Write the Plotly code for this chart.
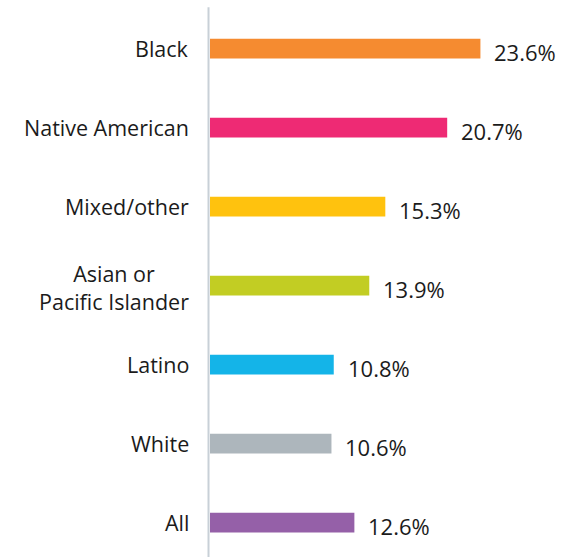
import plotly.graph_objects as go

# Share of each group, percent
groups = ["Black", "Native American", "Mixed/other", "Asian or<br>Pacific Islander",
          "Latino", "White", "All"]
values = [23.6, 20.7, 15.3, 13.9, 10.8, 10.6, 12.6]
colors = ["#F58B30", "#EE2A74", "#FFC20E", "#C2CD23", "#14B4E8", "#ADB6BC", "#9560A8"]

FONT = "'Open Sans', sans-serif"
TEXT_COLOR = "#1b1b1b"

fig = go.Figure(
    go.Bar(
        x=values,
        y=list(range(len(groups))),
        orientation="h",
        marker=dict(color=colors, line=dict(width=0)),
        width=0.25,
        hoverinfo="skip",
    )
)

annotations = []
for i, (g, v) in enumerate(zip(groups, values)):
    # group name, right-aligned left of the axis
    annotations.append(dict(
        x=0, xref="paper", y=i, yref="y", text=g, showarrow=False,
        xanchor="right", yanchor="middle", align="center", xshift=-19,
        yshift=-2 if "<br>" in g else 0,
        font=dict(family=FONT, size=21.5, color=TEXT_COLOR),
    ))
    # value label at the end of each bar
    annotations.append(dict(
        x=v, xref="x", y=i, yref="y", text=f"{v:.1f}%", showarrow=False,
        xanchor="left", yanchor="middle", xshift=12, yshift=-3,
        font=dict(family=FONT, size=22, color=TEXT_COLOR),
    ))

fig.update_layout(
    width=584, height=557,
    margin=dict(l=210, r=0, t=0, b=0),
    paper_bgcolor="white", plot_bgcolor="white",
    showlegend=False,
    xaxis=dict(range=[0, 32.64], visible=False, fixedrange=True),
    yaxis=dict(range=[6.435, -0.616], visible=False, fixedrange=True),
    annotations=annotations,
    shapes=[dict(
        type="line", xref="paper", yref="paper",
        x0=-0.004, x1=-0.004, y0=0, y1=0.987,
        line=dict(color="#C8D0D7", width=2),
    )],
)

fig.write_html("out.html")
